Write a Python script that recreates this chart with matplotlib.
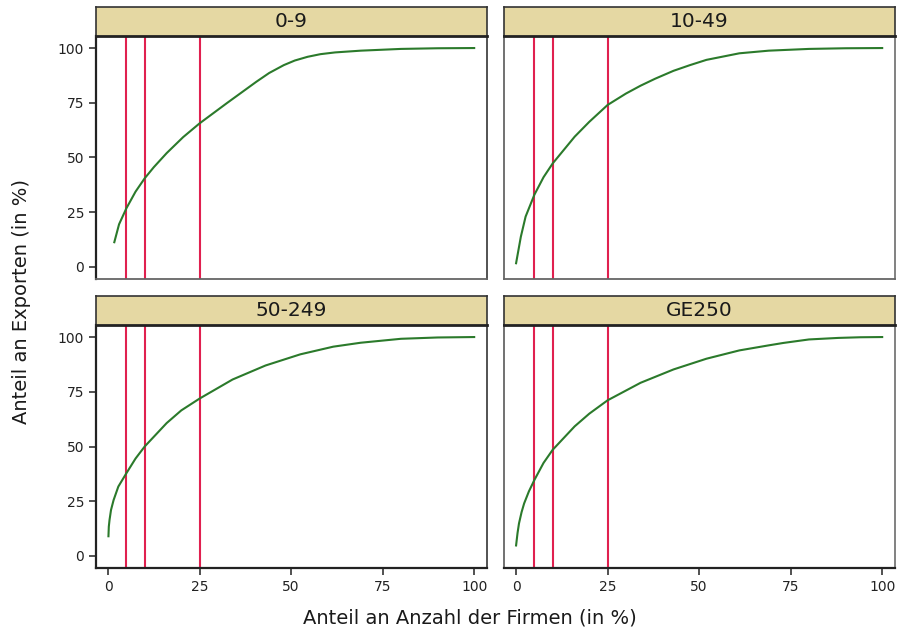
import matplotlib
matplotlib.use("Agg")
import matplotlib.pyplot as plt

plt.rcParams["font.family"] = ["DejaVu Sans"]

# ---- data ----
panels = ["0-9", "10-49", "50-249", "GE250"]

x_0_9 = [1.7, 3, 5, 7.5, 10, 12.5, 16, 20.5, 25, 32.5, 40.5, 44, 48, 51, 54.5, 58, 62, 69, 80, 90, 100]
y_0_9 = [11.3, 19.5, 26.8, 34.4, 40.5, 45.6, 52, 59.3, 65.6, 74.9, 84.6, 88.6, 92.2, 94.3, 96.0, 97.2, 98.0, 98.8, 99.6, 99.9, 100]

x_10_49 = [0, 1.3, 2.6, 5, 7.5, 10, 16, 20, 25, 30, 34, 38, 43, 47.5, 52, 61, 69, 80, 90, 100]
y_10_49 = [1.7, 13.8, 23, 33, 41, 47.3, 59.5, 66.3, 74, 79.2, 82.8, 86, 89.6, 92.2, 94.6, 97.6, 98.8, 99.6, 99.9, 100]

x_50_249 = [0.1, 0.2, 0.4, 0.8, 1.5, 2.8, 5, 7.5, 10, 16, 20, 25, 34, 43, 52.5, 61.5, 69, 80, 90, 100]
y_50_249 = [9, 13.4, 16.5, 21, 25.5, 31.7, 37.8, 44.5, 50, 60.7, 66.5, 71.9, 80.6, 87, 92.1, 95.6, 97.4, 99.2, 99.8, 100]

x_ge250 = [0, 0.4, 0.8, 1.5, 2.2, 3.5, 5, 7.5, 10, 16, 20, 25, 34, 43, 52, 61, 69, 73, 80, 88, 94, 100]
y_ge250 = [4.8, 10.5, 14.9, 20, 24, 29.5, 34.7, 42.5, 48.5, 59.2, 65, 71.1, 79.1, 85.2, 90.1, 93.9, 96.2, 97.3, 98.9, 99.6, 99.9, 100]

vlines = [5, 10, 25]
xticks = [0, 25, 50, 75, 100]
yticks = [0, 25, 50, 75, 100]

series = {
    "0-9": (x_0_9, y_0_9),
    "10-49": (x_10_49, y_10_49),
    "50-249": (x_50_249, y_50_249),
    "GE250": (x_ge250, y_ge250),
}

# ---- layout ----
W, H = 900, 634
fig = plt.figure(figsize=(W / 100, H / 100), dpi=100)

cols = [(96, 487), (504, 895)]
rows = [(7, 36, 279), (296, 325, 568)]  # strip top, panel top, panel bottom

green = "#2b7a2b"
red = "#e0204f"
strip_col = "#e5d8a3"

for i, name in enumerate(panels):
    r, c = divmod(i, 2)
    x0, x1 = cols[c]
    st, pt, pb = rows[r]
    ax = fig.add_axes([x0 / W, 1 - pb / H, (x1 - x0) / W, (pb - pt) / H])
    sax = fig.add_axes([x0 / W, 1 - pt / H, (x1 - x0) / W, (pt - st) / H])

    xs, ys = series[name]
    for v in vlines:
        ax.axvline(v, color=red, lw=1.5, zorder=2)
    ax.plot(xs, ys, color=green, lw=1.5, zorder=3, solid_joinstyle="round")
    ax.set_xlim(-3.3, 103.5)
    ax.set_ylim(-5.5, 105.5)
    ax.set_xticks(xticks)
    ax.set_yticks(yticks)
    ax.tick_params(direction="out", length=5, width=1.2, color="#333333",
                   labelsize=10, labelcolor="#222222")
    if c != 0:
        ax.tick_params(axis="y", left=False, labelleft=False)
    if r != 1:
        ax.tick_params(axis="x", bottom=False, labelbottom=False)
    for s in ax.spines.values():
        s.set_color("#666666")
        s.set_linewidth(1.3)
    if c == 0:
        ax.spines["left"].set_color("#222222")
        ax.spines["left"].set_linewidth(1.6)
    if r == 1:
        ax.spines["bottom"].set_color("#222222")
        ax.spines["bottom"].set_linewidth(1.6)
    ax.spines["right"].set_color("#444444" if c == 0 else "#777777")

    sax.set_facecolor(strip_col)
    sax.set_xticks([])
    sax.set_yticks([])
    for s in sax.spines.values():
        s.set_color("#333333")
        s.set_linewidth(1.2)
    sax.spines["bottom"].set_linewidth(2.0)
    sax.spines["bottom"].set_color("#222222")
    sax.text(0.5, 0.5, name, ha="center", va="center", fontsize=14.5,
             color="#1a1a1a", transform=sax.transAxes)

fig.text(470 / W, 1 - 618 / H, "Anteil an Anzahl der Firmen (in %)",
         ha="center", va="center", fontsize=14, color="#1a1a1a")
fig.text(22 / W, 1 - 302 / H, "Anteil an Exporten (in %)", rotation=90,
         ha="center", va="center", fontsize=14, color="#1a1a1a")

fig.savefig("out.png", dpi=100, facecolor="white")
